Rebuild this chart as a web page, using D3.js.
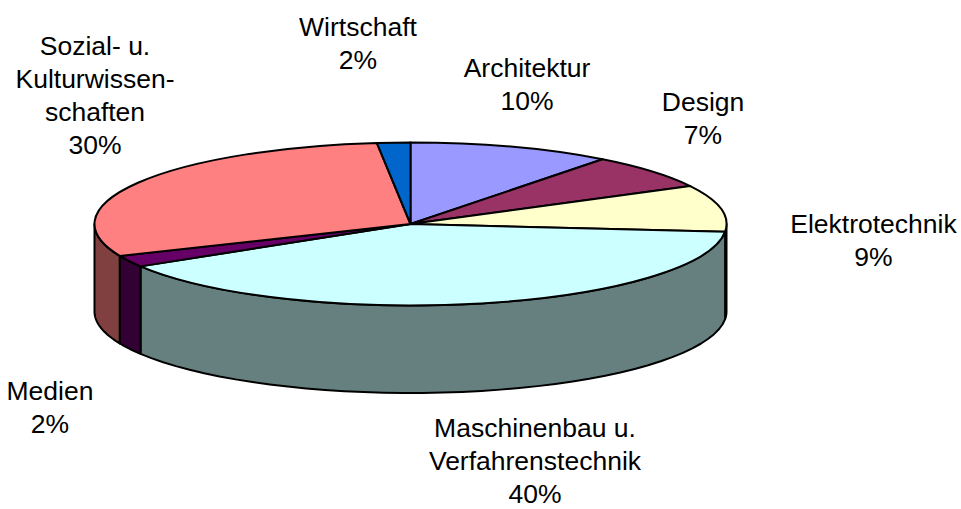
<!DOCTYPE html>
<html>
<head>
<meta charset="utf-8">
<script src="https://cdn.jsdelivr.net/npm/d3@7"></script>
<style>
  html, body { margin: 0; padding: 0; background: #fff; }
  text { font-family: "Liberation Sans", Arial, sans-serif; font-size: 26.5px; fill: #000; }
</style>
</head>
<body>
<div id="chart"></div>
<script>
// Data (slice order is clockwise from 12 o'clock)
const categories = ["Architektur", "Design", "Elektrotechnik", "Maschinenbau u. Verfahrenstechnik", "Medien", "Sozial- u. Kulturwissen-schaften", "Wirtschaft"];
const values = [10.4, 6.9, 9.2, 39.8, 2.3, 29.7, 1.7];
const labelLines = [["Architektur"], ["Design"], ["Elektrotechnik"], ["Maschinenbau u.", "Verfahrenstechnik"], ["Medien"], ["Sozial- u.", "Kulturwissen-", "schaften"], ["Wirtschaft"]];
const topColors = ["#9999ff", "#993366", "#ffffcc", "#ccffff", "#660066", "#ff8080", "#0066cc"];
const sideColors = ["#4d4d80", "#4d1a33", "#808066", "#668080", "#330033", "#804040", "#003366"];
const labelX = [527, 703, 873.5, 535, 50, 95, 358];
const labelY = [77, 111, 233, 437, 400, 55, 36];

// Set dimensions
const owidth = 961, oheight = 509;
const cx = 410.5, cy = 224, rx = 316, ry = 81.5, depth = 87.5;
const lineGap = 33;

// Build svg
const svg = d3.select("#chart").append("svg")
  .attr("width", owidth)
  .attr("height", oheight)
  .style("display", "block");

svg.append("rect")
  .attr("width", "100%")
  .attr("height", "100%")
  .style("fill", "#fff");

const slices = d3.pie().sort(null)(values);

// Map the unit circle onto the flattened ellipse
const xScale = d3.scaleLinear().domain([-1, 1]).range([cx - rx, cx + rx]);
const yScale = d3.scaleLinear().domain([-1, 1]).range([cy - ry, cy + ry]);
const px = a => xScale(Math.sin(a));
const py = a => yScale(-Math.cos(a));

// Side walls, only the front half of the rim can be seen
const frontStart = Math.PI / 2, frontEnd = Math.PI * 3 / 2;
const wallLine = d3.line();

function wallPath(d) {
  const a0 = Math.max(d.startAngle, frontStart);
  const a1 = Math.min(d.endAngle, frontEnd);
  if (a1 <= a0) return null;
  const steps = d3.range(0, 41).map(i => a0 + (a1 - a0) * i / 40);
  const rim = steps.map(a => [px(a), py(a)]);
  const bottom = steps.slice().reverse().map(a => [px(a), py(a) + depth]);
  return wallLine(rim.concat(bottom)) + "Z";
}

svg.append("g").selectAll("path")
  .data(slices)
  .join("path")
  .attr("d", wallPath)
  .style("fill", (d, i) => sideColors[i])
  .style("stroke", "#000")
  .style("stroke-width", 2)
  .style("stroke-linejoin", "round");

// Top face, a normal d3 arc squashed vertically
const arc = d3.arc().innerRadius(0).outerRadius(rx);

svg.append("g")
  .attr("transform", `translate(${cx}, ${cy}) scale(1, ${ry / rx})`)
  .selectAll("path")
  .data(slices)
  .join("path")
  .attr("d", arc)
  .attr("vector-effect", "non-scaling-stroke")
  .style("fill", (d, i) => topColors[i])
  .style("stroke", "#000")
  .style("stroke-width", 2)
  .style("stroke-linejoin", "round");

// Labels
const labels = svg.append("g").selectAll("text")
  .data(categories)
  .join("text")
  .attr("text-anchor", "middle")
  .attr("x", (d, i) => labelX[i])
  .attr("y", (d, i) => labelY[i]);

labels.each(function(d, i) {
  const lines = labelLines[i].concat(Math.round(values[i]) + "%");
  d3.select(this).selectAll("tspan")
    .data(lines)
    .join("tspan")
    .attr("x", labelX[i])
    .attr("y", (l, j) => labelY[i] + j * lineGap)
    .text(l => l);
});
</script>
</body>
</html>
